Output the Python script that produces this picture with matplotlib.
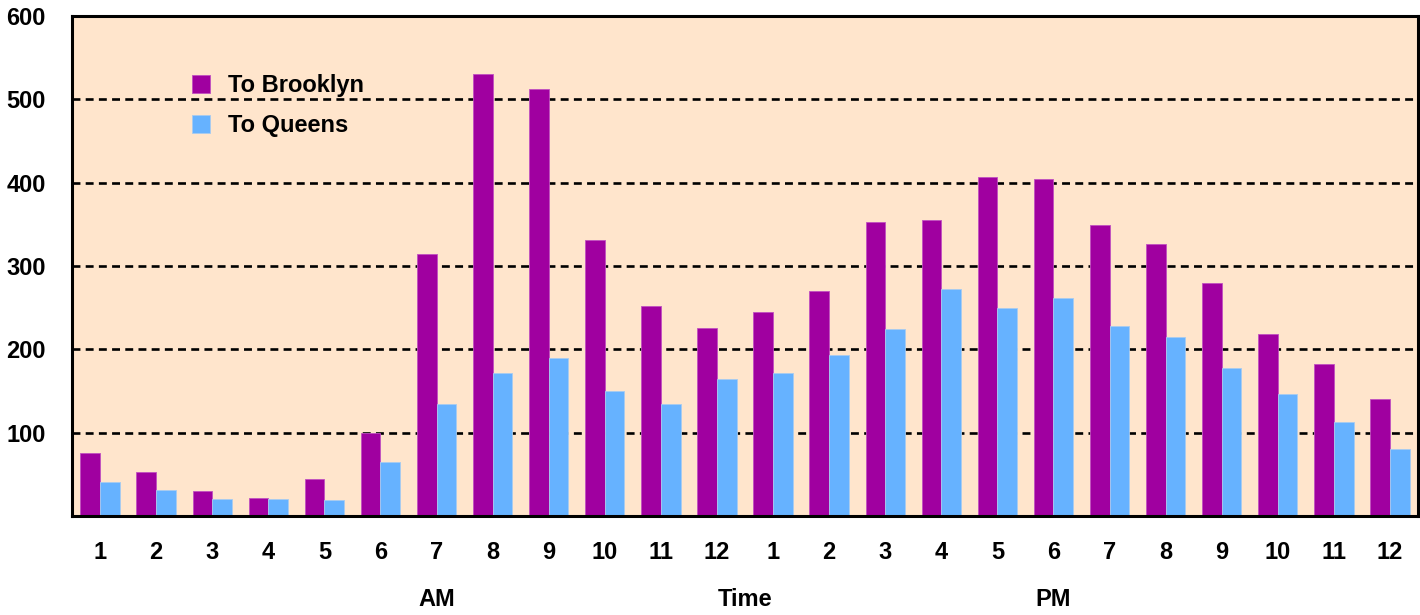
import matplotlib
matplotlib.use("Agg")
import matplotlib.pyplot as plt
import matplotlib.transforms as mtransforms
import numpy as np

plt.rcParams['font.family'] = ['Liberation Sans', 'DejaVu Sans']

hours = ["1", "2", "3", "4", "5", "6", "7", "8", "9", "10", "11", "12",
         "1", "2", "3", "4", "5", "6", "7", "8", "9", "10", "11", "12"]
to_brooklyn = [76, 53, 30, 22, 44, 100, 314, 531, 512, 331, 252, 226,
               245, 270, 353, 355, 407, 405, 349, 326, 280, 218, 183, 141]
to_queens = [41, 31, 21, 21, 19, 65, 135, 172, 190, 150, 134, 164,
             172, 193, 224, 273, 250, 262, 228, 215, 178, 146, 113, 80]
y_ticks = [100, 200, 300, 400, 500, 600]
period_labels = ["AM", "Time", "PM"]
period_positions = [6, 11.5, 17]

purple = "#A000A0"
blue = "#66B2FF"
bg = "#FFE5CC"

fig = plt.figure(figsize=(14.2, 6.15), dpi=100)
ax = fig.add_axes([72 / 1420, 1 - 516 / 615, (1418 - 72) / 1420, 500 / 615])
ax.set_facecolor(bg)

x = np.arange(len(hours))
w = 0.35
ax.bar(x, to_brooklyn, width=w, align='edge', color=purple,
       edgecolor="#C050C0", linewidth=0.6, label="To Brooklyn", zorder=3)
ax.bar(x + w, to_queens, width=w, align='edge', color=blue,
       edgecolor="#A8CCF0", linewidth=0.6, label="To Queens", zorder=3)

ax.set_xlim(-0.5 + w, len(hours) - 0.5 + w)
ax.set_ylim(0, 600)
ax.set_yticks(y_ticks)
ax.set_yticklabels([str(v) for v in y_ticks], fontsize=17, fontweight='bold')
ax.set_xticks(x + w)
ax.set_xticklabels(hours, fontsize=17, fontweight='bold')
ax.tick_params(axis='x', length=0, pad=18)
ax.tick_params(axis='y', length=0, pad=19)

for v in y_ticks[:-1]:
    ax.axhline(v, color='black', linestyle=(0, (3, 2)), linewidth=1.9, zorder=1)

for side in ['left', 'bottom', 'top', 'right']:
    ax.spines[side].set_color('black')
    ax.spines[side].set_linewidth(2.2)
    ax.spines[side].set_zorder(4)

trans = mtransforms.blended_transform_factory(ax.transData, ax.transAxes)
for lbl, pos in zip(period_labels, period_positions):
    ax.text(pos + w, -0.168, lbl, transform=trans, ha='center', va='center',
            fontsize=17, fontweight='bold')

leg = ax.legend(loc='upper left', bbox_to_anchor=(0.073, 0.927), frameon=False,
                prop={'size': 17, 'weight': 'bold'}, handlelength=0.8,
                handleheight=0.8, handletextpad=0.75, labelspacing=0.75)

fig.savefig("out.png", dpi=100)
